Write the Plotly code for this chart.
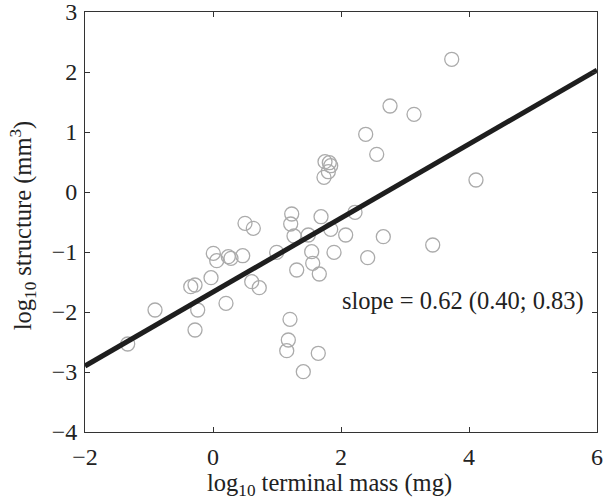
import plotly.graph_objects as go

# log10 terminal mass (mg)
mass = [-1.333, -0.906, -0.281, -0.239, 0.203, -0.348, -0.281, -0.031, 0.605, 0.723,
        0.005, 0.058, 0.239, 0.281, 0.464, 0.995, 0.500, 0.630, 1.230, 1.214,
        1.688, 2.219, 1.266, 1.489, 1.839, 2.073, 2.661, 1.542, 1.891, 2.417,
        1.558, 1.308, 1.661, 1.203, 1.177, 1.152, 1.645, 1.411, 3.730, 2.766,
        3.141, 2.386, 2.558, 1.750, 1.817, 1.839, 1.802, 1.734, 4.109, 3.433]
# log10 structure (mm^3)
structure = [-2.533, -1.967, -2.300, -1.967, -1.855, -1.578, -1.550, -1.428, -1.495, -1.595,
             -1.022, -1.145, -1.078, -1.105, -1.062, -1.005, -0.522, -0.605, -0.367, -0.533,
             -0.412, -0.338, -0.733, -0.717, -0.622, -0.717, -0.745, -0.995, -1.005, -1.095,
             -1.188, -1.300, -1.367, -2.122, -2.467, -2.645, -2.688, -2.995, 2.212, 1.433,
             1.295, 0.962, 0.628, 0.505, 0.488, 0.438, 0.338, 0.245, 0.200, -0.883]

fit_x = [-2, 6]
fit_y = [-2.90, 2.03]

x_ticks = [-2, 0, 2, 4, 6]
y_ticks = [-4, -3, -2, -1, 0, 1, 2, 3]

font_family = "Liberation Serif"

fig = go.Figure()
fig.add_trace(go.Scatter(
    x=mass, y=structure, mode="markers",
    marker=dict(symbol="circle-open", size=14, color="#ababab", line=dict(width=1.3, color="#ababab")),
    showlegend=False, hoverinfo="skip"))
fig.add_trace(go.Scatter(
    x=fit_x, y=fit_y, mode="lines",
    line=dict(color="#1e1e1e", width=5), showlegend=False, hoverinfo="skip"))

axis_common = dict(
    showgrid=False, zeroline=False, showline=True, linecolor="#333333", linewidth=1,
    ticks="inside", ticklen=5, tickcolor="#333333", mirror="ticks",
    ticklabeloverflow="allow",
    tickfont=dict(family=font_family, size=24, color="#222222"),
)

fig.update_layout(
    width=603, height=502,
    margin=dict(l=85, r=6, t=12, b=70, autoexpand=False),
    paper_bgcolor="white", plot_bgcolor="white",
    font=dict(family=font_family, color="#222222"),
    xaxis=dict(range=[-2, 6], tickvals=x_ticks, ticklabelstandoff=3, **axis_common),
    yaxis=dict(range=[-4, 3], tickvals=y_ticks, ticklabelstandoff=2, **axis_common),
    annotations=[
        dict(x=3.906, y=-1.82, xref="x", yref="y",
             text="slope = 0.62 (0.40; 0.83)", showarrow=False,
             font=dict(family=font_family, size=24.5, color="#222222"),
             xanchor="center", yanchor="middle"),
        dict(x=0.4785, y=-0.124, xref="paper", yref="paper",
             text="log<sub>10</sub> terminal mass (mg)", showarrow=False,
             font=dict(family=font_family, size=24.5, color="#222222"),
             xanchor="center", yanchor="middle"),
        dict(x=-0.121, y=0.49, xref="paper", yref="paper", textangle=-90,
             text="log<sub>10</sub> structure (mm<sup>3</sup>)", showarrow=False,
             font=dict(family=font_family, size=24.5, color="#222222"),
             xanchor="center", yanchor="middle"),
    ],
)

fig.write_html("out.html", config={"displayModeBar": False},
               post_script="document.body.style.margin='0';document.body.style.overflow='hidden';")
